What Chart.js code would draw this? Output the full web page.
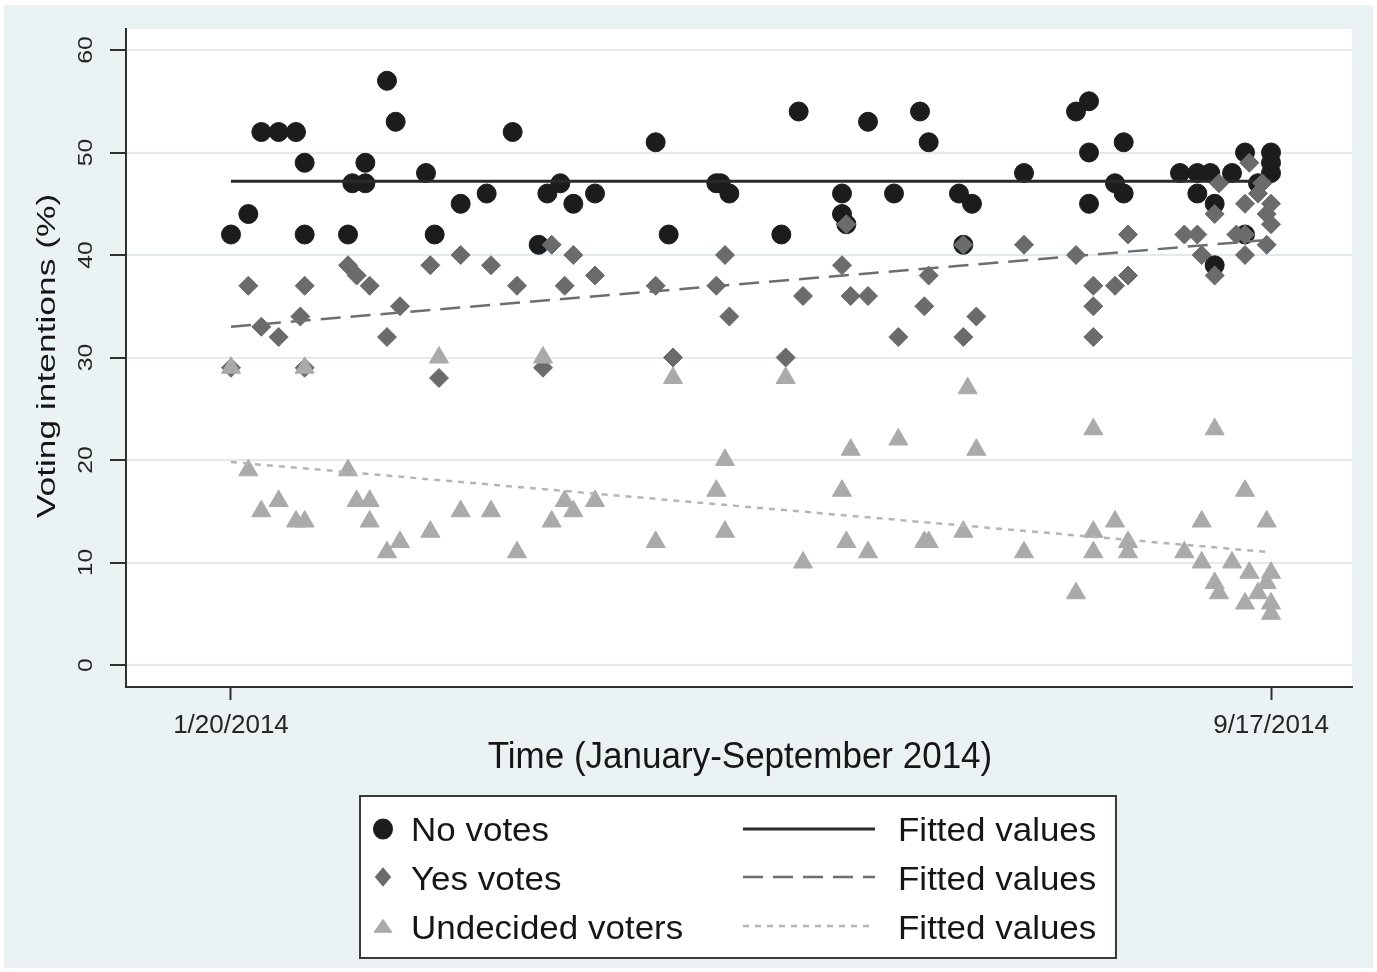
<!DOCTYPE html>
<html>
<head>
<meta charset="utf-8">
<title>Voting intentions, January–September 2014</title>
<script src="https://cdn.jsdelivr.net/npm/chart.js@4.4.1/dist/chart.umd.min.js"></script>
<style>
  html, body { margin: 0; padding: 0; background: #ffffff; }
  canvas { display: block; }
</style>
</head>
<body>
<canvas id="chart" width="1377" height="972"></canvas>
<script>
// ---- data: days since 20 Jan 2014, share of respondents (%) ----
const xTickValues = [0, 240];
const xTickLabels = ['1/20/2014', '9/17/2014'];
const yTickValues = [0, 10, 20, 30, 40, 50, 60];

const noDays = [0,4,7,11,15,17,17,27,28,31,31,36,38,45,47,53,59,65,71,73,76,79,84,98,101,112,113,115,127,131,
                141,141,142,147,153,159,161,168,169,171,183,195,198,198,198,204,206,206,219,223,226,231,223,227,227,
                234,240,240,240,237,234];
const noPct  = [42,44,52,52,52,49,42,42,47,47,49,57,53,48,42,45,46,52,41,46,47,45,46,51,42,47,47,46,42,54,
                44,46,43,53,46,54,51,46,41,45,48,54,55,50,45,47,51,46,48,48,48,48,46,45,39,
                50,50,48,49,47,42];

const yesDays = [0,4,7,11,16,17,17,27,29,32,36,39,46,48,53,60,66,72,74,77,79,84,98,102,112,114,115,128,132,141,
                 142,143,147,154,160,161,169,172,169,183,195,199,199,199,204,207,207,220,223,228,227,224,227,234,232,
                 234,234,235,238,237,240,239,240,239];
const yesPct  = [29,37,33,32,34,37,29,39,38,37,32,35,39,28,40,39,37,29,41,37,40,38,37,30,37,40,34,30,36,39,
                 43,36,36,32,35,38,32,34,41,41,40,37,35,32,37,38,42,42,42,47,44,40,38,45,42,
                 42,40,49,47,46,45,44,43,41];

const undDays = [0,4,7,11,15,17,17,27,29,32,32,36,39,46,48,53,60,66,72,74,77,79,84,98,102,112,114,114,128,132,
                 141,143,142,147,154,160,161,169,170,172,183,195,199,199,199,204,207,207,220,224,224,227,227,228,231,
                 234,235,234,239,240,239,237,240,240];
const undPct  = [29,19,15,16,14,14,29,19,16,16,14,11,12,13,30,15,15,11,30,14,16,15,16,12,28,17,20,13,28,10,
                 17,21,12,11,22,12,12,13,27,21,11,7,23,13,11,14,12,11,11,14,10,23,8,7,10,
                 17,9,6,14,9,8,7,6,5];

// linear fits (end points)
const fitDays = [0, 240];
const noFit   = [47.2, 47.2];
const yesFit  = [33.0, 41.5];
const undFit  = [19.8, 11.0];

// ---- presentation ----
const FONT = '"Liberation Sans", Arial, Helvetica, sans-serif';
const PAGE_BG = '#eaf2f3';
const INK = '#161616';
const AXIS = '#2f2f2f';

const toXY = (xs, ys) => xs.map((x, i) => ({ x: x, y: ys[i] }));

const datasets = [
  { type: 'scatter', label: 'No votes', data: toXY(noDays, noPct), order: 6,
    pointStyle: 'circle', pointRadius: 9.5, pointBackgroundColor: '#1c1c1c',
    pointBorderColor: '#1c1c1c', pointBorderWidth: 1 },
  { type: 'line', label: 'Fitted values', data: toXY(fitDays, noFit), order: 5,
    borderColor: '#2a2a2a', borderWidth: 3, pointRadius: 0, fill: false, tension: 0 },
  { type: 'scatter', label: 'Yes votes', data: toXY(yesDays, yesPct), order: 4,
    pointStyle: 'rectRot', pointRadius: 9.5, pointBackgroundColor: '#6b6b6b',
    pointBorderColor: '#6b6b6b', pointBorderWidth: 1 },
  { type: 'line', label: 'Fitted values', data: toXY(fitDays, yesFit), order: 3,
    borderColor: '#6e6e6e', borderWidth: 2.5, borderDash: [20, 10], pointRadius: 0, fill: false, tension: 0 },
  { type: 'scatter', label: 'Undecided voters', data: toXY(undDays, undPct), order: 2,
    pointStyle: 'triangle', pointRadius: 11, pointBackgroundColor: '#aaaaaa',
    pointBorderColor: '#aaaaaa', pointBorderWidth: 1 },
  { type: 'line', label: 'Fitted values', data: toXY(fitDays, undFit), order: 1,
    borderColor: '#b5b5b5', borderWidth: 2.5, borderDash: [6, 6], pointRadius: 0, fill: false, tension: 0 }
];

// axis ranges chosen so the plot region runs a little past the first/last poll
const X_MIN = -24.23, X_MAX = 258.69;
const Y_MIN = -2.146, Y_MAX = 62.05;

function drawText(ctx, txt, x, y, o) {
  ctx.save();
  ctx.translate(x, y);
  if (o.rot) ctx.rotate(o.rot);
  ctx.scale(o.sx || 1, o.sy || 1);
  ctx.font = o.size + 'px ' + FONT;
  ctx.fillStyle = o.color || INK;
  ctx.textAlign = o.align || 'center';
  ctx.textBaseline = 'alphabetic';
  ctx.fillText(txt, 0, 0);
  ctx.restore();
}

const decor = {
  id: 'decor',
  beforeDraw(chart) {
    const ctx = chart.ctx, a = chart.chartArea;
    ctx.save();
    ctx.fillStyle = '#ffffff';
    ctx.fillRect(0, 0, chart.width, chart.height);
    ctx.fillStyle = PAGE_BG;
    ctx.fillRect(4, 5, 1369, 963);
    ctx.fillStyle = '#ffffff';
    ctx.fillRect(a.left, a.top, a.right - a.left, a.bottom - a.top);
    ctx.restore();
  },
  afterDraw(chart) {
    const ctx = chart.ctx;
    const xs = chart.scales.x, ys = chart.scales.y;

    // y tick labels, turned to read bottom-to-top
    ys.ticks.forEach(t => {
      drawText(ctx, String(t.value), 92, ys.getPixelForValue(t.value),
        { size: 20, rot: -Math.PI / 2, sx: 1.24, color: '#252525' });
    });
    // x tick labels
    xs.ticks.forEach((t, i) => {
      drawText(ctx, xTickLabels[i], xs.getPixelForValue(t.value), 733,
        { size: 26, color: '#252525' });
    });
    // axis titles
    drawText(ctx, 'Voting intentions (%)', 55, 356, { size: 26, rot: -Math.PI / 2, sx: 1.36 });
    drawText(ctx, 'Time (January-September 2014)', 740, 768, { size: 35, sy: 1.07 });

    // legend: markers and labels in the left column, fit lines in the right
    ctx.save();
    ctx.fillStyle = '#ffffff';
    ctx.fillRect(360, 796, 756, 162);
    ctx.strokeStyle = '#3a3a3a';
    ctx.lineWidth = 2;
    ctx.strokeRect(360, 796, 756, 162);
    ctx.restore();

    const ds = chart.data.datasets;
    const rows = [
      { pt: ds[0], fit: ds[1], y: 829, base: 841, r: 9.5, sy: 1.05, dy: 0 },
      { pt: ds[2], fit: ds[3], y: 877, base: 890, r: 7.5, sy: 1.2, dy: 0 },
      { pt: ds[4], fit: ds[5], y: 926, base: 939, r: 10.4, sy: 0.83, dy: 2 }
    ];
    rows.forEach(row => {
      ctx.save();
      ctx.translate(383, row.y + row.dy);
      ctx.scale(1, row.sy);
      ctx.fillStyle = row.pt.pointBackgroundColor;
      ctx.strokeStyle = row.pt.pointBorderColor;
      ctx.lineWidth = 1;
      Chart.helpers.drawPoint(ctx, { pointStyle: row.pt.pointStyle, radius: row.r, rotation: 0, borderWidth: 1 }, 0, 0);
      ctx.restore();
      drawText(ctx, row.pt.label, 411, row.base, { size: 33, sx: 1.06, align: 'left' });

      ctx.save();
      ctx.strokeStyle = row.fit.borderColor;
      ctx.lineWidth = row.fit.borderWidth;
      ctx.setLineDash(row.fit.borderDash || []);
      ctx.beginPath();
      ctx.moveTo(743, row.y);
      ctx.lineTo(875, row.y);
      ctx.stroke();
      ctx.restore();
      drawText(ctx, row.fit.label, 898, row.base, { size: 33, sx: 1.06, align: 'left' });
    });
  }
};

new Chart(document.getElementById('chart'), {
  type: 'scatter',
  data: { datasets: datasets },
  options: {
    responsive: false,
    animation: false,
    devicePixelRatio: 1,
    layout: { padding: { top: 29, right: 25, left: 0, bottom: 0 } },
    plugins: { legend: { display: false }, tooltip: { enabled: false } },
    scales: {
      x: {
        type: 'linear', min: X_MIN, max: X_MAX,
        afterBuildTicks: s => { s.ticks = xTickValues.map(v => ({ value: v })); },
        afterFit: s => { s.height = 285; },
        ticks: { display: false },
        grid: { drawOnChartArea: false, drawTicks: true, tickLength: 13, tickColor: AXIS, tickWidth: 2 },
        border: { display: true, color: AXIS, width: 2 }
      },
      y: {
        type: 'linear', min: Y_MIN, max: Y_MAX,
        afterBuildTicks: s => { s.ticks = yTickValues.map(v => ({ value: v })); },
        afterFit: s => { s.width = 126; },
        ticks: { display: false },
        grid: { color: '#e2eaed', lineWidth: 2, drawTicks: true, tickLength: 16, tickColor: AXIS, tickWidth: 2 },
        border: { display: true, color: AXIS, width: 2 }
      }
    }
  },
  plugins: [decor]
});
</script>
</body>
</html>
